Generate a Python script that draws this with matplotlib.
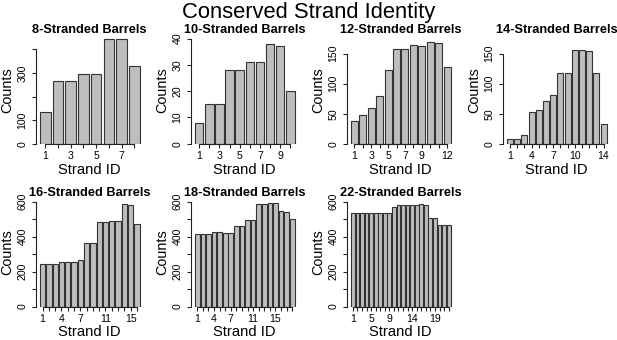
import numpy as np
import matplotlib
matplotlib.use("Agg")
import matplotlib.pyplot as plt

plt.rcParams['font.family'] = ['Liberation Sans', 'DejaVu Sans']

W, H = 617, 340

# counts per strand position, one list per barrel size
counts_8 = [136, 267, 267, 297, 297, 446, 446, 330]
counts_10 = [8, 15, 15, 28, 28, 31, 31, 38, 37, 20]
counts_12 = [38, 48, 59, 79, 122, 158, 158, 165, 163, 170, 167, 128]
counts_14 = [8, 8, 14, 53, 57, 72, 81, 118, 118, 156, 156, 154, 118, 33]
counts_16 = [246, 246, 246, 254, 254, 254, 267, 362, 364, 481, 481, 492, 492, 587, 580, 470]
counts_18 = [414, 414, 414, 424, 424, 420, 420, 462, 462, 494, 494, 585, 585, 592, 592, 547, 543, 503]
counts_22 = [535, 535, 535, 535, 535, 535, 535, 535, 535, 572, 578, 580, 580, 582, 582, 587, 580,
             509, 509, 465, 465, 465]

titles = ['8-Stranded Barrels', '10-Stranded Barrels', '12-Stranded Barrels', '14-Stranded Barrels',
          '16-Stranded Barrels', '18-Stranded Barrels', '22-Stranded Barrels']
all_counts = [counts_8, counts_10, counts_12, counts_14, counts_16, counts_18, counts_22]

# y ticks and which of them R printed a label for
yticks = [[0, 100, 200, 300, 400], [0, 10, 20, 30, 40], [0, 50, 100, 150], [0, 50, 100, 150],
          [0, 100, 200, 300, 400, 500, 600], [0, 100, 200, 300, 400, 500, 600],
          [0, 100, 200, 300, 400, 500, 600]]
ytick_shown = [[0, 100, 300], [0, 10, 20, 30, 40], [0, 50, 100, 150], [0, 50, 100, 150],
               [0, 200, 400, 600], [0, 200, 400, 600], [0, 200, 400, 600]]
# strand labels that fit under the x axis
xtick_shown = [[1, 3, 5, 7], [1, 3, 5, 7, 9], [1, 3, 5, 7, 9, 12], [1, 4, 7, 10, 14],
               [1, 4, 7, 11, 15], [1, 4, 7, 11, 15], [1, 5, 9, 14, 19]]

# layout in pixels: left edge of plot region, y of zero line, top of y range
lefts = [36, 191, 347, 503, 36, 191, 347]
zeros = [143.7, 143.7, 143.7, 143.7, 306.5, 306.5, 306.5]
ytops = [458, 41.1, 180, 180, 618, 618, 618]
REG_W, REG_H = 107.5, 108

fig = plt.figure(figsize=(W / 100, H / 100), dpi=100)

def fx(px):
    return px / W

def fy(py):
    return 1 - py / H

for i, counts in enumerate(all_counts):
    L, z = lefts[i], zeros[i]
    ax = fig.add_axes([fx(L), fy(z), REG_W / W, REG_H / H])
    n = len(counts)
    mids = 0.7 + 1.2 * np.arange(n)
    span = 1.2 * n - 0.2
    ax.bar(mids, counts, width=1.0, color='#bebebe', edgecolor='#333333', linewidth=0.8)
    ax.set_xlim(0.2 - 0.04 * span, 1.2 * n + 0.04 * span)
    ax.set_ylim(0, ytops[i])

    for s in ['top', 'right']:
        ax.spines[s].set_visible(False)
    ax.spines['left'].set_bounds(0, yticks[i][-1])
    ax.spines['bottom'].set_bounds(mids[0], mids[-1])
    for s in ['left', 'bottom']:
        ax.spines[s].set_linewidth(0.8)
        ax.spines[s].set_color('#222222')

    ax.set_xticks(mids)
    ax.set_xticklabels([str(k) if k in xtick_shown[i] else '' for k in range(1, n + 1)])
    ax.set_yticks(yticks[i])
    ax.set_yticklabels([str(t) if t in ytick_shown[i] else '' for t in yticks[i]],
                       rotation=90, va='center')
    ax.tick_params(axis='both', length=3, width=0.8, color='#222222', labelsize=7.6)
    ax.tick_params(axis='x', pad=2.5)
    ax.tick_params(axis='y', pad=3)
    ax.patch.set_visible(False)

    cx = L + REG_W / 2
    fig.text(fx(cx), fy(z - 110.4), titles[i], ha='center', va='baseline',
             fontsize=9.2, fontweight='bold')
    fig.text(fx(L - 28.5), fy(z - REG_H / 2), 'Counts', rotation=90, ha='center',
             va='center', fontsize=10.4)
    fig.text(fx(cx), fy(z + 26), 'Strand ID', ha='center', va='center', fontsize=10.6)

fig.text(0.5, fy(18.3), 'Conserved Strand Identity', ha='center', va='baseline', fontsize=15.8)

fig.savefig('out.png', dpi=100)
